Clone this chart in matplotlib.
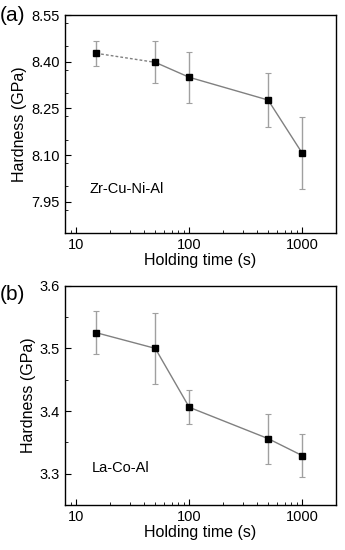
import numpy as np
import matplotlib
matplotlib.use('Agg')
import matplotlib.pyplot as plt
from matplotlib.ticker import FixedLocator, NullFormatter, LogLocator

plt.rcParams['font.family'] = ['Liberation Sans', 'DejaVu Sans']

t = [15, 50, 100, 500, 1000]
h_zr = [8.427, 8.398, 8.350, 8.277, 8.107]
e_zr = [0.040, 0.067, 0.081, 0.086, 0.117]
h_la = [3.525, 3.500, 3.406, 3.356, 3.329]
e_la = [0.034, 0.057, 0.027, 0.040, 0.034]

fig = plt.figure(figsize=(3.45, 5.5), dpi=100)
ax0 = fig.add_axes([0.188, 0.5764, 0.786, 0.3963])
ax1 = fig.add_axes([0.188, 0.0818, 0.786, 0.3987])


def style(ax, ylim, yticks, ystep):
    ax.set_xscale('log')
    ax.set_xlim(7.9, 2000)
    ax.set_ylim(*ylim)
    ax.set_xticks([10, 100, 1000])
    ax.set_xticklabels(['10', '100', '1000'])
    ax.xaxis.set_minor_locator(LogLocator(base=10, subs=np.arange(2, 10)))
    ax.xaxis.set_minor_formatter(NullFormatter())
    ax.set_yticks(yticks)
    ax.yaxis.set_minor_locator(FixedLocator(np.arange(ylim[0], ylim[1], ystep / 2)))
    ax.tick_params(which='both', direction='in', top=False, right=False, labelsize=10.5)
    ax.tick_params(which='major', length=4, width=0.8)
    ax.tick_params(which='minor', length=2, width=0.6)
    ax.set_xlabel('Holding time (s)', fontsize=11.5, labelpad=1)
    ax.set_ylabel('Hardness (GPa)', fontsize=11.5, labelpad=3)
    for s in ax.spines.values():
        s.set_linewidth(1.0)


def draw(ax, y, e, dashed_first):
    ax.errorbar(t, y, yerr=e, fmt='none', ecolor='#a0a0a0', elinewidth=1.0,
                capsize=2, capthick=0.8, zorder=2)
    ax.plot(t[:2], y[:2], color='#808080', lw=1.0,
            ls=(0, (2, 1.5)) if dashed_first else '-', zorder=3)
    ax.plot(t[1:], y[1:], color='#808080', lw=1.0, zorder=3)
    ax.plot(t, y, ls='none', marker='s', ms=4, color='black', zorder=4)


draw(ax0, h_zr, e_zr, True)
style(ax0, (7.85, 8.55), [7.95, 8.10, 8.25, 8.40, 8.55], 0.15)
ax0.set_yticklabels(['7.95', '8.10', '8.25', '8.40', '8.55'])
ax0.text(0.09, 0.2, 'Zr-Cu-Ni-Al', transform=ax0.transAxes, fontsize=10.5, va='center')

draw(ax1, h_la, e_la, False)
style(ax1, (3.25, 3.6), [3.3, 3.4, 3.5, 3.6], 0.1)
ax1.text(0.1, 0.17, 'La-Co-Al', transform=ax1.transAxes, fontsize=10.5, va='center')

fig.text(0.0, 0.972, '(a)', fontsize=15, va='center')
fig.text(0.0, 0.465, '(b)', fontsize=15, va='center')

fig.savefig('out.png', dpi=100)
